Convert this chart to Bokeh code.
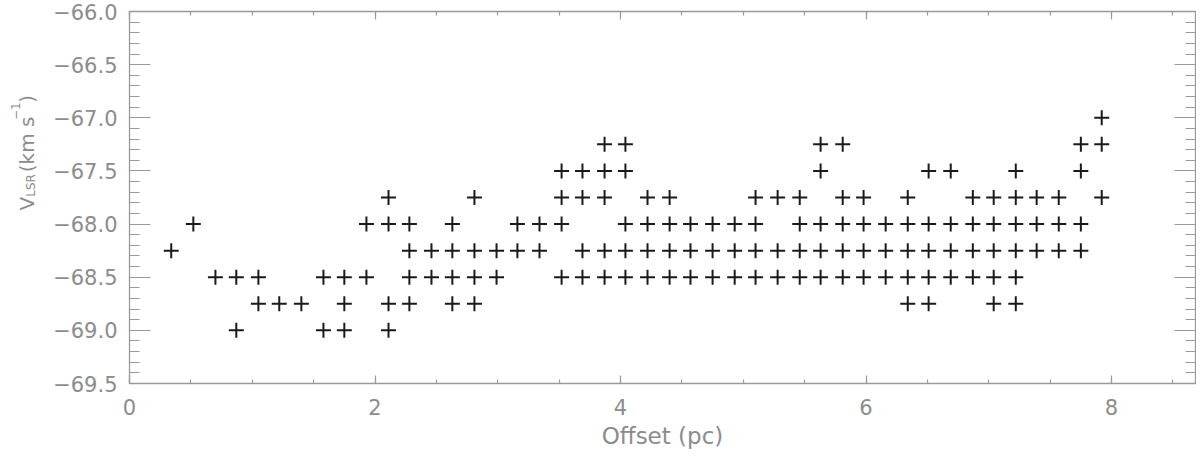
from math import pi
from bokeh.plotting import figure
from bokeh.layouts import row
from bokeh.models import (ColumnDataSource, LinearAxis, SingleIntervalTicker,
                          CustomJSTickFormatter, Range1d)
from bokeh.core.properties import value
from bokeh.embed import file_html
from bokeh.resources import INLINE

# ---- data ----
offsets_pc = [0.34, 0.52, 0.70, 0.87, 1.05, 1.22, 1.40, 1.58, 1.75, 1.93,
              2.11, 2.28, 2.46, 2.63, 2.81, 2.99, 3.16, 3.34, 3.52, 3.69,
              3.87, 4.04, 4.22, 4.40, 4.57, 4.75, 4.93, 5.10, 5.28, 5.46,
              5.63, 5.81, 5.98, 6.16, 6.34, 6.51, 6.69, 6.87, 7.04, 7.22,
              7.39, 7.57, 7.75, 7.92]

vlsr_per_offset = [
    [-68.25],
    [-68.0],
    [-68.5],
    [-68.5, -69.0],
    [-68.5, -68.75],
    [-68.75],
    [-68.75],
    [-68.5, -69.0],
    [-68.5, -68.75, -69.0],
    [-68.0, -68.5],
    [-67.75, -68.0, -68.75, -69.0],
    [-68.0, -68.25, -68.5, -68.75],
    [-68.25, -68.5],
    [-68.0, -68.25, -68.5, -68.75],
    [-67.75, -68.25, -68.5, -68.75],
    [-68.25, -68.5],
    [-68.0, -68.25],
    [-68.0, -68.25],
    [-67.5, -67.75, -68.0, -68.5],
    [-67.5, -67.75, -68.25, -68.5],
    [-67.25, -67.5, -67.75, -68.25, -68.5],
    [-67.25, -67.5, -68.0, -68.25, -68.5],
    [-67.75, -68.0, -68.25, -68.5],
    [-67.75, -68.0, -68.25, -68.5],
    [-68.0, -68.25, -68.5],
    [-68.0, -68.25, -68.5],
    [-68.0, -68.25, -68.5],
    [-67.75, -68.0, -68.25, -68.5],
    [-67.75, -68.25, -68.5],
    [-67.75, -68.0, -68.25, -68.5],
    [-67.25, -67.5, -68.0, -68.25, -68.5],
    [-67.25, -67.75, -68.0, -68.25, -68.5],
    [-67.75, -68.0, -68.25, -68.5],
    [-68.0, -68.25, -68.5],
    [-67.75, -68.0, -68.25, -68.5, -68.75],
    [-67.5, -68.0, -68.25, -68.5, -68.75],
    [-67.5, -68.0, -68.25, -68.5],
    [-67.75, -68.0, -68.25, -68.5],
    [-67.75, -68.0, -68.25, -68.5, -68.75],
    [-67.5, -67.75, -68.0, -68.25, -68.5, -68.75],
    [-67.75, -68.0, -68.25],
    [-67.75, -68.0, -68.25],
    [-67.25, -67.5, -68.0, -68.25],
    [-67.0, -67.25, -67.75],
]

x_label = "Offset (pc)"
y_label_parts = ["V", "LSR", "(km s", "\u22121", ")"]

# ---- flatten ----
xs, ys = [], []
for off, vals in zip(offsets_pc, vlsr_per_offset):
    for v in vals:
        xs.append(off)
        ys.append(v)
src = ColumnDataSource(dict(x=xs, y=ys))

GREY = "#8c8c8c"
LINE = "#9a9a9a"
FONT = "DejaVu Sans"

XMIN, XMAX = 0.0, 8.684
YMIN, YMAX = -69.5, -66.0

H = 456
LBL_W = 45

p = figure(width=1151, height=H, output_backend="svg", toolbar_location=None,
           x_range=Range1d(XMIN, XMAX), y_range=Range1d(YMIN, YMAX),
           x_axis_location=None, y_axis_location=None,
           min_border_left=84, min_border_right=1,
           min_border_top=11, min_border_bottom=73)
p.outline_line_color = None
p.grid.visible = False

p.scatter("x", "y", source=src, marker="cross", size=15,
          line_color="#1a1a1a", line_width=2)

fmt = CustomJSTickFormatter(code="""
    var s = Math.abs(tick).toFixed(1);
    return (tick < 0 ? "\\u2212" : "") + s;
""")
blank = CustomJSTickFormatter(code="return '';")

def style(ax, tin, tmin, show_labels):
    ax.axis_line_color = LINE
    ax.axis_line_width = 1.3
    ax.major_tick_line_color = LINE
    ax.minor_tick_line_color = LINE
    ax.major_tick_line_width = 1.2
    ax.minor_tick_line_width = 1.2
    ax.major_tick_in = tin
    ax.major_tick_out = 0
    ax.minor_tick_in = tmin
    ax.minor_tick_out = 0
    if show_labels:
        ax.major_label_text_color = GREY
        ax.major_label_text_font = FONT
        ax.major_label_text_font_size = "21px"
    else:
        ax.formatter = blank
        ax.major_label_standoff = 0
        ax.axis_label_standoff = 0

# bottom
xb = LinearAxis(ticker=SingleIntervalTicker(interval=2, num_minor_ticks=4))
style(xb, 8, 4, True)
xb.major_label_standoff = 15
xb.axis_label = x_label
xb.axis_label_text_font = FONT
xb.axis_label_text_font_size = "23px"
xb.axis_label_text_font_style = "normal"
xb.axis_label_text_color = GREY
xb.axis_label_standoff = 5
p.add_layout(xb, "below")

# top
xt = LinearAxis(ticker=SingleIntervalTicker(interval=2, num_minor_ticks=4))
style(xt, 8, 4, False)
p.add_layout(xt, "above")

# left
yl = LinearAxis(ticker=SingleIntervalTicker(interval=0.5, num_minor_ticks=5),
                formatter=fmt)
style(yl, 21, 10, True)
yl.major_label_standoff = 12
p.add_layout(yl, "left")

# right
yr = LinearAxis(ticker=SingleIntervalTicker(interval=0.5, num_minor_ticks=5))
style(yr, 21, 10, False)
p.add_layout(yr, "right")

# ---- y-axis title strip (V_LSR (km s^-1)) as its own narrow figure ----
lab = figure(width=LBL_W, height=H, output_backend="svg", toolbar_location=None,
             x_range=Range1d(0, LBL_W), y_range=Range1d(0, H),
             x_axis_location=None, y_axis_location=None,
             min_border_left=0, min_border_right=0,
             min_border_top=0, min_border_bottom=0)
lab.outline_line_color = None
lab.grid.visible = False

# (text, baseline x, start y from top, font size)
pieces = [
    (y_label_parts[0], 26, 244, "20px"),
    (y_label_parts[1], 30, 227, "12px"),
    (y_label_parts[2], 26, 197, "20px"),
    (y_label_parts[3], 15, 133, "12px"),
    (y_label_parts[4], 26, 112, "20px"),
]
for txt, bx, sy, fs in pieces:
    lab.text(x=[bx], y=[H - sy], text=[txt], angle=pi / 2,
             text_align="left", text_baseline="alphabetic",
             text_font=value(FONT), text_font_size=fs, text_color=GREY)

layout = row(lab, p, spacing=0)
open("out.html", "w").write(file_html(layout, INLINE))
